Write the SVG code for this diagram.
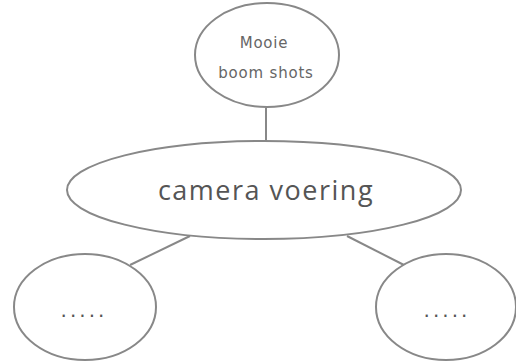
<svg xmlns="http://www.w3.org/2000/svg" width="516" height="361" viewBox="0 0 516 361">
<style>
.n{fill:#fff;stroke:#888;stroke-width:2}
.c{stroke:#888;stroke-width:2;fill:none}
.t{fill:#555;font-family:"Open Sans","DejaVu Sans",sans-serif;text-anchor:middle}
.h{fill:#666;font-family:"DejaVu Sans",sans-serif;font-size:15px;letter-spacing:0.8px;text-anchor:middle}
.d{fill:#555;font-family:"DejaVu Sans",sans-serif;font-size:20px;letter-spacing:3px;text-anchor:middle}
</style>
<rect width="516" height="361" fill="#fff"/>
<g id="connectors">
<line class="c" x1="266" y1="108" x2="266" y2="142"/>
<line class="c" x1="190" y1="236" x2="130" y2="265"/>
<line class="c" x1="347" y1="236" x2="404" y2="265"/>
</g>
<g id="node-top">
<ellipse class="n" cx="267" cy="55" rx="72" ry="52"/>
<text class="h" x="264" y="48">Mooie</text>
<text class="h" x="266" y="78">boom shots</text>
</g>
<g id="node-camera">
<ellipse class="n" cx="264" cy="190" rx="197" ry="49"/>
<text class="t" x="266" y="200" font-size="27" letter-spacing="1.5">camera voering</text>
</g>
<g id="node-left">
<ellipse class="n" cx="85" cy="307" rx="71" ry="53"/>
<text class="d" x="84" y="317">.....</text>
</g>
<g id="node-right">
<ellipse class="n" cx="446" cy="307" rx="70" ry="53"/>
<text class="d" x="447" y="317">.....</text>
</g>
</svg>
